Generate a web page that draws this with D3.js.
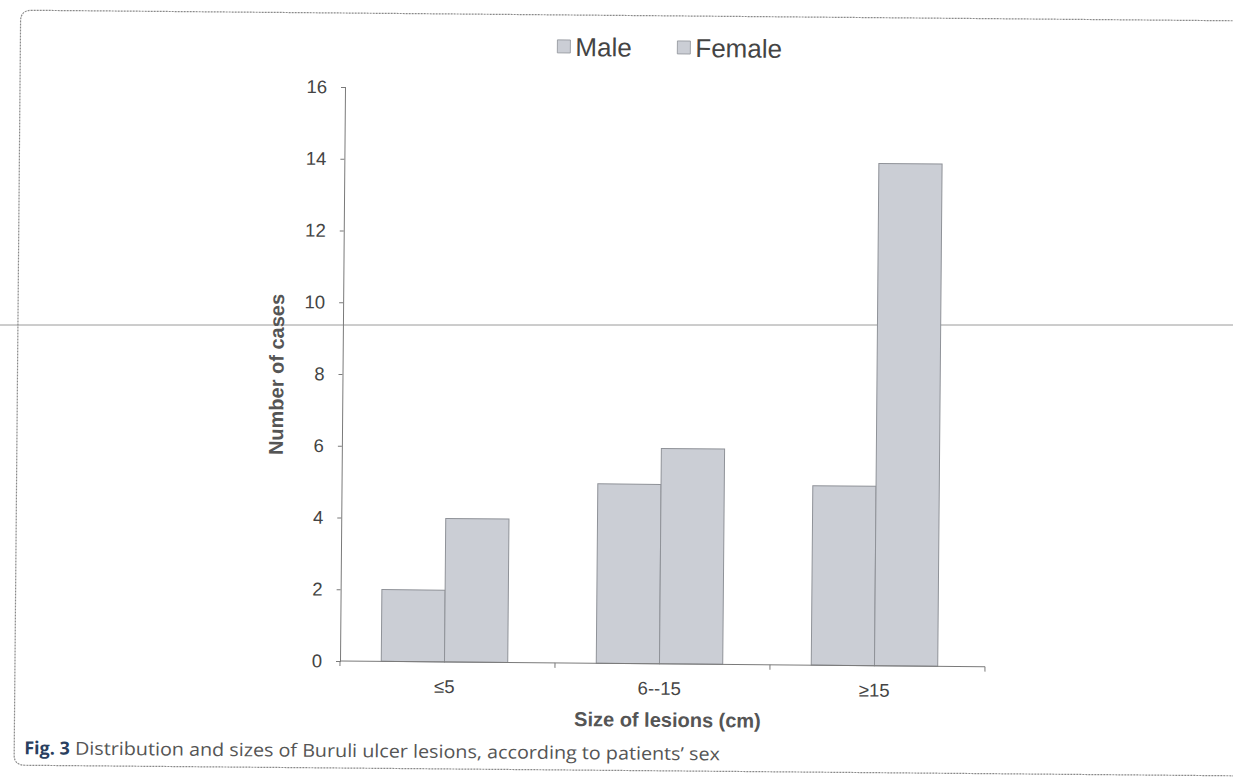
<!DOCTYPE html>
<html>
<head>
<meta charset="utf-8">
<script src="https://cdn.jsdelivr.net/npm/d3@7"></script>
<style>
  html, body { margin: 0; padding: 0; background: #fff; }
  svg { display: block; }
</style>
</head>
<body>
<svg id="chart" width="1233" height="778"></svg>
<script>
const categories = ["≤5", "6--15", "≥15"];
const seriesNames = ["Male", "Female"];
const male = [2, 5, 5];
const female = [4, 6, 14];
const yTicks = [0, 2, 4, 6, 8, 10, 12, 14, 16];
const xTitle = "Size of lesions (cm)";
const yTitle = "Number of cases";
const captionBold = "Fig. 3";
const captionText = " Distribution and sizes of Buruli ulcer lesions, according to patients’ sex";

const svg = d3.select("#chart");
const barFill = "#cbced5";
const barStroke = "#8f9298";
const axisColor = "#7a7a7a";
const textColor = "#444";

// scan artifact line (horizontal, not skewed)
svg.append("line").attr("x1", 0).attr("x2", 1233).attr("y1", 325).attr("y2", 325)
  .attr("stroke", "#9a9a9a").attr("stroke-width", 1);

const g = svg.append("g").attr("transform", "rotate(0.5, 340, 661)");

// frame
g.append("path")
  .attr("d", "M 1260 13 L 26 13 Q 15 13 15 24 L 15 758 Q 15 768 26 768 L 1260 768")
  .attr("fill", "none").attr("stroke", "#8a8a8a").attr("stroke-width", 1.2)
  .attr("stroke-dasharray", "2,1");

const x0 = d3.scaleBand().domain(categories).range([340, 985]).paddingInner(0).paddingOuter(0);
const x1 = d3.scaleBand().domain(seriesNames).range([0, x0.bandwidth()]).paddingInner(0).paddingOuter(0.7);
const y = d3.scaleLinear().domain([0, 16]).range([661, 87]);

const data = categories.map((c, i) => ({ cat: c, values: [
  { name: "Male", v: male[i] }, { name: "Female", v: female[i] } ] }));

// bars
const groups = g.selectAll(".grp").data(data).enter().append("g")
  .attr("transform", d => `translate(${x0(d.cat) - 3},0)`);
groups.selectAll("rect").data(d => d.values).enter().append("rect")
  .attr("x", d => x1(d.name))
  .attr("y", d => y(d.v))
  .attr("width", x1.bandwidth())
  .attr("height", d => y(0) - y(d.v))
  .attr("fill", barFill)
  .attr("stroke", barStroke)
  .attr("stroke-width", 1);

// y axis
const yAxis = d3.axisLeft(y).tickValues(yTicks).tickSize(4).tickPadding(14).tickFormat(d3.format("d"));
const yg = g.append("g").attr("transform", "translate(340,0)").call(yAxis);
yg.attr("font-size", null);
yg.select(".domain").attr("stroke", axisColor);
yg.selectAll(".tick line").attr("stroke", axisColor);
yg.selectAll(".tick text").attr("fill", textColor)
  .attr("font-family", "'Liberation Sans', Arial, sans-serif").attr("font-size", 18.5);

// x axis: ticks at category boundaries
const boundaries = categories.map(c => x0(c)).concat([x0.range()[1]]);
const xg = g.append("g").attr("transform", "translate(0,661)");
xg.append("line").attr("x1", 340).attr("x2", 985).attr("y1", 0).attr("y2", 0).attr("stroke", axisColor);
xg.selectAll(".bt").data(boundaries).enter().append("line")
  .attr("x1", d => d).attr("x2", d => d).attr("y1", 0).attr("y2", 5).attr("stroke", axisColor);
xg.selectAll(".cl").data(categories).enter().append("text")
  .attr("x", d => x0(d) + x0.bandwidth() / 2 - 3)
  .attr("y", 31)
  .attr("text-anchor", "middle")
  .attr("fill", textColor)
  .attr("font-family", "'Liberation Sans', Arial, sans-serif").attr("font-size", 18.5)
  .text(d => d);

// axis titles
g.append("text").attr("x", 668).attr("y", 724).attr("text-anchor", "middle")
  .attr("fill", "#555").style("font-family", "'Liberation Sans', Arial, sans-serif")
  .style("font-size", "20px").style("font-weight", "bold").text(xTitle);
g.append("text").attr("transform", "translate(281,375) rotate(-90)").attr("text-anchor", "middle")
  .attr("fill", "#555").style("font-family", "'Liberation Sans', Arial, sans-serif")
  .style("font-size", "20px").style("font-weight", "bold").text(yTitle);

// legend
const legendX = [552, 672];
const lg = g.selectAll(".leg").data(seriesNames).enter().append("g")
  .attr("transform", (d, i) => `translate(${legendX[i]},0)`);
lg.append("rect").attr("x", 0).attr("y", 38).attr("width", 13).attr("height", 13)
  .attr("fill", barFill).attr("stroke", barStroke).attr("stroke-width", 0.8);
lg.append("text").attr("x", 18).attr("y", 54).attr("fill", textColor)
  .style("font-family", "'Liberation Sans', Arial, sans-serif").style("font-size", "26px")
  .text(d => d);

// caption
const cap = g.append("text").attr("x", 25).attr("y", 757)
  .style("font-family", "'Open Sans', sans-serif").style("font-size", "18px");
cap.append("tspan").attr("fill", "#2a3f5f").style("font-weight", "bold").text(captionBold);
cap.append("tspan").attr("fill", "#555").attr("textLength", 650).attr("lengthAdjust", "spacingAndGlyphs").text(captionText);
</script>
</body>
</html>
